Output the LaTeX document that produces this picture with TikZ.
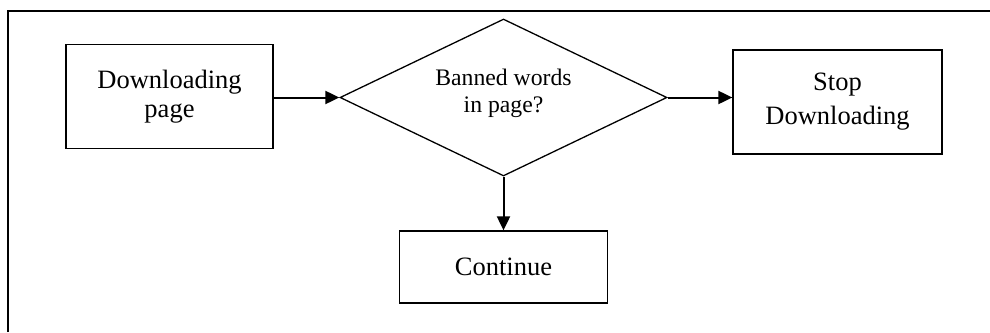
\documentclass[tikz,border=0pt]{standalone}
\usepackage{fontspec}
\setmainfont{Liberation Serif}
\usetikzlibrary{shapes.geometric,arrows.meta}
\begin{document}
\begin{tikzpicture}[x=1pt,y=-1pt,
  box/.style={draw,line width=1.3pt,inner sep=0pt,align=center,font=\fontsize{26.5}{28.5}\selectfont},
  conn/.style={line width=2pt,-{Triangle[length=14pt,width=13pt]}},
  frame/.style={line width=2.2pt}]
\useasboundingbox (0,0) rectangle (990,332);
\draw[frame] (8,332) -- (8,11) -- (990,11);
\node[box,minimum width=207pt,minimum height=104pt] (dl) at (169.5,96.5) {Downloading\\page};
\node[draw,line width=1.3pt,shape=diamond,inner sep=0pt,minimum width=327pt,minimum height=157pt,aspect=2.08] (q) at (503.5,97.5) {};
\node[align=center,font=\fontsize{23.7}{27}\selectfont] (qt) at (503.5,93) {Banned words\\in page?};
\node[box,minimum width=209pt,minimum height=104pt,font=\fontsize{26.5}{34}\selectfont] (stop) at (837.5,102) {Stop\\Downloading};
\node[box,minimum width=208pt,minimum height=72pt] (cont) at (503.5,267) {Continue};
\draw[conn] (dl.east |- q.west) -- (q.west);
\draw[conn] (q.east) -- (q.east -| stop.west);
\draw[conn] (q.south) -- (q.south |- cont.north);
\end{tikzpicture}
\end{document}
